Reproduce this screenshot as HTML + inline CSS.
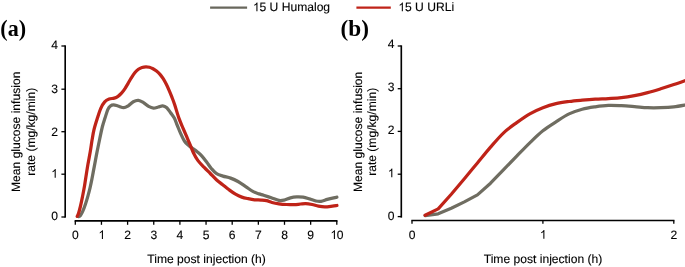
<!DOCTYPE html>
<html><head><meta charset="utf-8"><title>Chart</title>
<style>
html,body{margin:0;padding:0;background:#fff;}
body{width:685px;height:267px;overflow:hidden;font-family:"Liberation Sans",sans-serif;}
.g{fill:#000;}
svg{display:block;will-change:transform;opacity:0.999;}
.t{font-family:"Liberation Sans",sans-serif;font-size:12.1px;fill:#000;stroke:#000;stroke-width:0.12px;text-rendering:geometricPrecision;}
.p{font-family:"Liberation Serif",serif;font-weight:bold;font-size:22.7px;fill:#000;}
</style></head><body>
<svg width="685" height="267" viewBox="0 0 685 267">
<rect width="685" height="267" fill="#fff"/>
<path d="M210.1,7.7 H247.1" stroke="#68675c" stroke-width="2.2" fill="none"/>
<path class="g" transform="translate(252.95,11.20) scale(0.005908,-0.005908)" d="M763 0H583V1147Q518 1085 412.5 1023T223 930V1104Q374 1175 487 1276T647 1472H763Z"/>
<text x="259.53" y="11.2" class="t">5 U Humalog</text>
<path d="M356.4,7.7 H390.8" stroke="#bf2318" stroke-width="2.2" fill="none"/>
<path class="g" transform="translate(398.35,11.20) scale(0.005908,-0.005908)" d="M763 0H583V1147Q518 1085 412.5 1023T223 930V1104Q374 1175 487 1276T647 1472H763Z"/>
<text x="405.03" y="11.2" class="t">5 U URLi</text>
<text x="0.3" y="35.5" class="p" textLength="25.8" lengthAdjust="spacingAndGlyphs">(a)</text>
<text x="340.5" y="35.6" class="p" textLength="28.4" lengthAdjust="spacingAndGlyphs">(b)</text>
<path d="M65.20,45.35 V217.65" stroke="#000" stroke-width="1.65" fill="none"/>
<path d="M61.40,217.00 H65.20" stroke="#000" stroke-width="1.3" fill="none"/>
<text x="58.00" y="220.10" text-anchor="end" class="t">0</text>
<path d="M61.40,174.20 H65.20" stroke="#000" stroke-width="1.3" fill="none"/>
<path class="g" transform="translate(51.22,177.80) scale(0.005908,-0.005908)" d="M763 0H583V1147Q518 1085 412.5 1023T223 930V1104Q374 1175 487 1276T647 1472H763Z"/>
<path d="M61.40,131.70 H65.20" stroke="#000" stroke-width="1.3" fill="none"/>
<text x="58.00" y="135.50" text-anchor="end" class="t">2</text>
<path d="M61.40,89.20 H65.20" stroke="#000" stroke-width="1.3" fill="none"/>
<text x="58.00" y="92.75" text-anchor="end" class="t">3</text>
<path d="M61.40,46.00 H65.20" stroke="#000" stroke-width="1.3" fill="none"/>
<text x="58.00" y="49.40" text-anchor="end" class="t">4</text>
<path d="M74.65,220.80 H337.45" stroke="#000" stroke-width="1.65" fill="none"/>
<path d="M75.30,220.80 V224.80" stroke="#000" stroke-width="1.3" fill="none"/>
<text x="75.30" y="238.90" text-anchor="middle" class="t">0</text>
<path d="M101.45,220.80 V224.80" stroke="#000" stroke-width="1.3" fill="none"/>
<path class="g" transform="translate(98.44,238.90) scale(0.005908,-0.005908)" d="M763 0H583V1147Q518 1085 412.5 1023T223 930V1104Q374 1175 487 1276T647 1472H763Z"/>
<path d="M127.60,220.80 V224.80" stroke="#000" stroke-width="1.3" fill="none"/>
<text x="127.60" y="238.90" text-anchor="middle" class="t">2</text>
<path d="M153.75,220.80 V224.80" stroke="#000" stroke-width="1.3" fill="none"/>
<text x="153.75" y="238.90" text-anchor="middle" class="t">3</text>
<path d="M179.90,220.80 V224.80" stroke="#000" stroke-width="1.3" fill="none"/>
<text x="179.90" y="238.90" text-anchor="middle" class="t">4</text>
<path d="M206.05,220.80 V224.80" stroke="#000" stroke-width="1.3" fill="none"/>
<text x="206.05" y="238.90" text-anchor="middle" class="t">5</text>
<path d="M232.20,220.80 V224.80" stroke="#000" stroke-width="1.3" fill="none"/>
<text x="232.20" y="238.90" text-anchor="middle" class="t">6</text>
<path d="M258.35,220.80 V224.80" stroke="#000" stroke-width="1.3" fill="none"/>
<text x="258.35" y="238.90" text-anchor="middle" class="t">7</text>
<path d="M284.50,220.80 V224.80" stroke="#000" stroke-width="1.3" fill="none"/>
<text x="284.50" y="238.90" text-anchor="middle" class="t">8</text>
<path d="M310.65,220.80 V224.80" stroke="#000" stroke-width="1.3" fill="none"/>
<text x="310.65" y="238.90" text-anchor="middle" class="t">9</text>
<path d="M336.80,220.80 V224.80" stroke="#000" stroke-width="1.3" fill="none"/>
<path class="g" transform="translate(330.42,238.90) scale(0.005908,-0.005908)" d="M763 0H583V1147Q518 1085 412.5 1023T223 930V1104Q374 1175 487 1276T647 1472H763Z"/>
<text x="336.80" y="238.90" class="t">0</text>
<path d="M401.30,45.35 V217.65" stroke="#000" stroke-width="1.65" fill="none"/>
<path d="M397.70,216.60 H401.30" stroke="#000" stroke-width="1.3" fill="none"/>
<text x="394.60" y="220.20" text-anchor="end" class="t">0</text>
<path d="M397.70,174.20 H401.30" stroke="#000" stroke-width="1.3" fill="none"/>
<path class="g" transform="translate(387.82,177.30) scale(0.005908,-0.005908)" d="M763 0H583V1147Q518 1085 412.5 1023T223 930V1104Q374 1175 487 1276T647 1472H763Z"/>
<path d="M397.70,131.40 H401.30" stroke="#000" stroke-width="1.3" fill="none"/>
<text x="394.60" y="134.30" text-anchor="end" class="t">2</text>
<path d="M397.70,88.70 H401.30" stroke="#000" stroke-width="1.3" fill="none"/>
<text x="394.60" y="91.00" text-anchor="end" class="t">3</text>
<path d="M397.70,46.00 H401.30" stroke="#000" stroke-width="1.3" fill="none"/>
<text x="394.60" y="48.00" text-anchor="end" class="t">4</text>
<path d="M411.35,220.45 H674.45" stroke="#000" stroke-width="1.35" fill="none"/>
<path d="M412.00,220.45 V223.65" stroke="#000" stroke-width="1.3" fill="none"/>
<text x="412.00" y="238.70" text-anchor="middle" class="t">0</text>
<path d="M542.90,220.45 V223.65" stroke="#000" stroke-width="1.3" fill="none"/>
<path class="g" transform="translate(539.89,238.70) scale(0.005908,-0.005908)" d="M763 0H583V1147Q518 1085 412.5 1023T223 930V1104Q374 1175 487 1276T647 1472H763Z"/>
<path d="M673.80,220.45 V223.65" stroke="#000" stroke-width="1.3" fill="none"/>
<text x="673.80" y="238.70" text-anchor="middle" class="t">2</text>
<text transform="translate(20.40,131.80) rotate(-90)" text-anchor="middle" class="t">Mean glucose infusion</text>
<text transform="translate(35.30,131.80) rotate(-90)" text-anchor="middle" class="t">rate (mg/kg/min)</text>
<text transform="translate(362.00,131.85) rotate(-90)" text-anchor="middle" class="t">Mean glucose infusion</text>
<text transform="translate(376.30,131.85) rotate(-90)" text-anchor="middle" class="t">rate (mg/kg/min)</text>
<text x="206.6" y="263.1" text-anchor="middle" class="t">Time post injection (h)</text>
<text x="543" y="263.1" text-anchor="middle" class="t">Time post injection (h)</text>
<path d="M78.80,216.60 C79.07,216.43 79.72,216.55 80.40,215.60 C81.08,214.65 82.05,212.85 82.90,210.90 C83.75,208.95 84.67,206.37 85.50,203.90 C86.33,201.43 87.13,198.82 87.90,196.10 C88.67,193.38 89.42,190.52 90.10,187.60 C90.78,184.68 91.40,181.60 92.00,178.60 C92.60,175.60 93.13,172.60 93.70,169.60 C94.27,166.60 94.85,163.52 95.40,160.60 C95.95,157.68 96.27,155.78 97.00,152.10 C97.73,148.42 98.92,142.68 99.80,138.50 C100.68,134.32 101.43,130.40 102.30,127.00 C103.17,123.60 104.08,121.00 105.00,118.10 C105.92,115.20 106.90,111.62 107.80,109.60 C108.70,107.58 109.43,106.78 110.40,106.00 C111.37,105.22 112.33,104.90 113.60,104.90 C114.87,104.90 116.30,105.53 118.00,106.00 C119.70,106.47 122.10,107.73 123.80,107.70 C125.50,107.67 126.62,106.80 128.20,105.80 C129.78,104.80 131.60,102.60 133.30,101.70 C135.00,100.80 136.70,100.25 138.40,100.40 C140.10,100.55 141.80,101.60 143.50,102.60 C145.20,103.60 146.93,105.48 148.60,106.40 C150.27,107.32 151.88,108.00 153.50,108.10 C155.12,108.20 156.77,107.38 158.30,107.00 C159.83,106.62 161.28,105.68 162.70,105.80 C164.12,105.92 165.48,106.53 166.80,107.70 C168.12,108.87 169.35,111.07 170.60,112.80 C171.85,114.53 173.17,115.95 174.30,118.10 C175.43,120.25 176.35,123.15 177.40,125.70 C178.45,128.25 179.43,130.85 180.60,133.40 C181.77,135.95 183.08,139.02 184.40,141.00 C185.72,142.98 187.02,143.98 188.50,145.30 C189.98,146.62 191.87,147.83 193.30,148.90 C194.73,149.97 195.70,150.53 197.10,151.70 C198.50,152.87 200.08,154.13 201.70,155.90 C203.32,157.67 205.17,160.17 206.80,162.30 C208.43,164.43 209.87,166.80 211.50,168.70 C213.13,170.60 214.70,172.47 216.60,173.70 C218.50,174.93 220.57,175.37 222.90,176.10 C225.23,176.83 228.08,177.20 230.60,178.10 C233.12,179.00 235.48,180.08 238.00,181.50 C240.52,182.92 243.15,184.90 245.70,186.60 C248.25,188.30 251.08,190.48 253.30,191.70 C255.52,192.92 257.28,193.30 259.00,193.90 C260.72,194.50 261.55,194.65 263.60,195.30 C265.65,195.95 268.75,196.95 271.30,197.80 C273.85,198.65 276.78,200.02 278.90,200.40 C281.02,200.78 282.08,200.53 284.00,200.10 C285.92,199.67 288.27,198.33 290.40,197.80 C292.53,197.27 294.68,197.00 296.80,196.90 C298.92,196.80 300.98,196.87 303.10,197.20 C305.22,197.53 307.37,198.27 309.50,198.90 C311.63,199.53 313.98,200.60 315.90,201.00 C317.82,201.40 319.10,201.57 321.00,201.30 C322.90,201.03 325.18,199.98 327.30,199.40 C329.42,198.82 332.10,198.17 333.70,197.80 C335.30,197.43 336.37,197.30 336.90,197.20" fill="none" stroke="#6f6d61" stroke-width="3.25" stroke-linecap="round" stroke-linejoin="round"/>
<path d="M77.20,216.40 C77.42,215.92 77.97,215.15 78.50,213.50 C79.03,211.85 79.77,209.15 80.40,206.50 C81.03,203.85 81.62,201.00 82.30,197.60 C82.98,194.20 83.65,191.13 84.50,186.10 C85.35,181.07 86.45,173.07 87.40,167.40 C88.35,161.73 89.42,156.70 90.20,152.10 C90.98,147.50 91.47,143.55 92.10,139.80 C92.73,136.05 93.12,133.22 94.00,129.60 C94.88,125.98 96.27,121.65 97.40,118.10 C98.53,114.55 99.58,111.00 100.80,108.30 C102.02,105.60 103.32,103.43 104.70,101.90 C106.08,100.37 107.52,99.73 109.10,99.10 C110.68,98.47 112.72,98.57 114.20,98.10 C115.68,97.63 116.78,97.12 118.00,96.30 C119.22,95.48 120.37,94.43 121.50,93.20 C122.63,91.97 123.72,90.50 124.80,88.90 C125.88,87.30 126.92,85.43 128.00,83.60 C129.08,81.77 130.17,79.72 131.30,77.90 C132.43,76.08 133.62,74.13 134.80,72.70 C135.98,71.27 137.20,70.17 138.40,69.30 C139.60,68.43 140.75,67.92 142.00,67.50 C143.25,67.08 144.65,66.83 145.90,66.80 C147.15,66.77 148.32,66.97 149.50,67.30 C150.68,67.63 151.83,68.17 153.00,68.80 C154.17,69.43 155.33,70.17 156.50,71.10 C157.67,72.03 158.88,73.13 160.00,74.40 C161.12,75.67 162.17,77.08 163.20,78.70 C164.23,80.32 165.23,82.20 166.20,84.10 C167.17,86.00 168.07,87.97 169.00,90.10 C169.93,92.23 170.87,94.50 171.80,96.90 C172.73,99.30 173.42,100.97 174.60,104.50 C175.78,108.03 177.48,114.13 178.90,118.10 C180.32,122.07 181.77,125.12 183.10,128.30 C184.43,131.48 185.67,134.32 186.90,137.20 C188.13,140.08 189.42,143.02 190.50,145.60 C191.58,148.18 192.18,150.23 193.40,152.70 C194.62,155.17 196.00,157.95 197.80,160.40 C199.60,162.85 202.12,165.22 204.20,167.40 C206.28,169.58 208.27,171.45 210.30,173.50 C212.33,175.55 214.33,177.83 216.40,179.70 C218.47,181.57 220.58,183.02 222.70,184.70 C224.82,186.38 226.97,188.22 229.10,189.80 C231.23,191.38 233.38,192.98 235.50,194.20 C237.62,195.42 239.68,196.35 241.80,197.10 C243.92,197.85 246.07,198.25 248.20,198.70 C250.33,199.15 252.47,199.57 254.60,199.80 C256.73,200.03 259.02,199.95 261.00,200.10 C262.98,200.25 264.67,200.30 266.50,200.70 C268.33,201.10 269.93,201.98 272.00,202.50 C274.07,203.02 276.47,203.47 278.90,203.80 C281.33,204.13 284.05,204.35 286.60,204.50 C289.15,204.65 291.87,204.78 294.20,204.70 C296.53,204.62 298.68,204.18 300.60,204.00 C302.52,203.82 303.78,203.52 305.70,203.60 C307.62,203.68 309.98,204.08 312.10,204.50 C314.22,204.92 316.28,205.72 318.40,206.10 C320.52,206.48 322.47,206.80 324.80,206.80 C327.13,206.80 330.38,206.32 332.40,206.10 C334.42,205.88 336.15,205.60 336.90,205.50" fill="none" stroke="#bf2318" stroke-width="3.25" stroke-linecap="round" stroke-linejoin="round"/>
<path d="M425.09,215.60 L438.18,213.80 L451.27,208.30 L464.36,201.90 L477.45,194.90 L490.54,183.20L490.54,183.20 C492.72,180.93 499.27,174.12 503.63,169.60 C507.99,165.08 512.36,160.57 516.72,156.10 C521.08,151.63 525.45,147.02 529.81,142.80 C534.17,138.58 538.54,134.28 542.90,130.80 C547.26,127.32 551.63,124.72 555.99,121.90 C560.35,119.08 564.72,116.02 569.08,113.90 C573.44,111.78 577.81,110.38 582.17,109.20 C586.53,108.02 590.90,107.43 595.26,106.80 C599.62,106.17 603.99,105.58 608.35,105.40 C612.71,105.22 617.08,105.50 621.44,105.70 C625.80,105.90 630.17,106.27 634.53,106.60 C638.89,106.93 643.26,107.52 647.62,107.70 C651.98,107.88 656.35,107.83 660.71,107.70 C665.07,107.57 669.44,107.40 673.80,106.90 C678.16,106.40 684.71,105.07 686.89,104.70" fill="none" stroke="#6f6d61" stroke-width="3.2" stroke-linecap="round" stroke-linejoin="round"/>
<path d="M425.09,215.30 L438.18,208.90 L451.27,194.30 L464.36,178.80L464.36,178.80 C466.54,176.15 473.09,168.18 477.45,162.90 C481.81,157.62 486.18,152.12 490.54,147.10 C494.90,142.08 499.27,136.88 503.63,132.80 C507.99,128.72 512.36,125.77 516.72,122.60 C521.08,119.43 525.45,116.28 529.81,113.80 C534.17,111.32 538.54,109.40 542.90,107.70 C547.26,106.00 551.63,104.63 555.99,103.60 C560.35,102.57 564.72,102.07 569.08,101.50 C573.44,100.93 577.81,100.58 582.17,100.20 C586.53,99.82 590.90,99.47 595.26,99.20 C599.62,98.93 603.99,98.85 608.35,98.60 C612.71,98.35 617.08,98.20 621.44,97.70 C625.80,97.20 630.17,96.45 634.53,95.60 C638.89,94.75 643.26,93.73 647.62,92.60 C651.98,91.47 656.35,90.13 660.71,88.80 C665.07,87.47 669.44,86.08 673.80,84.60 C678.16,83.12 684.71,80.68 686.89,79.90" fill="none" stroke="#bf2318" stroke-width="3.2" stroke-linecap="round" stroke-linejoin="round"/>

</svg>
</body></html>
